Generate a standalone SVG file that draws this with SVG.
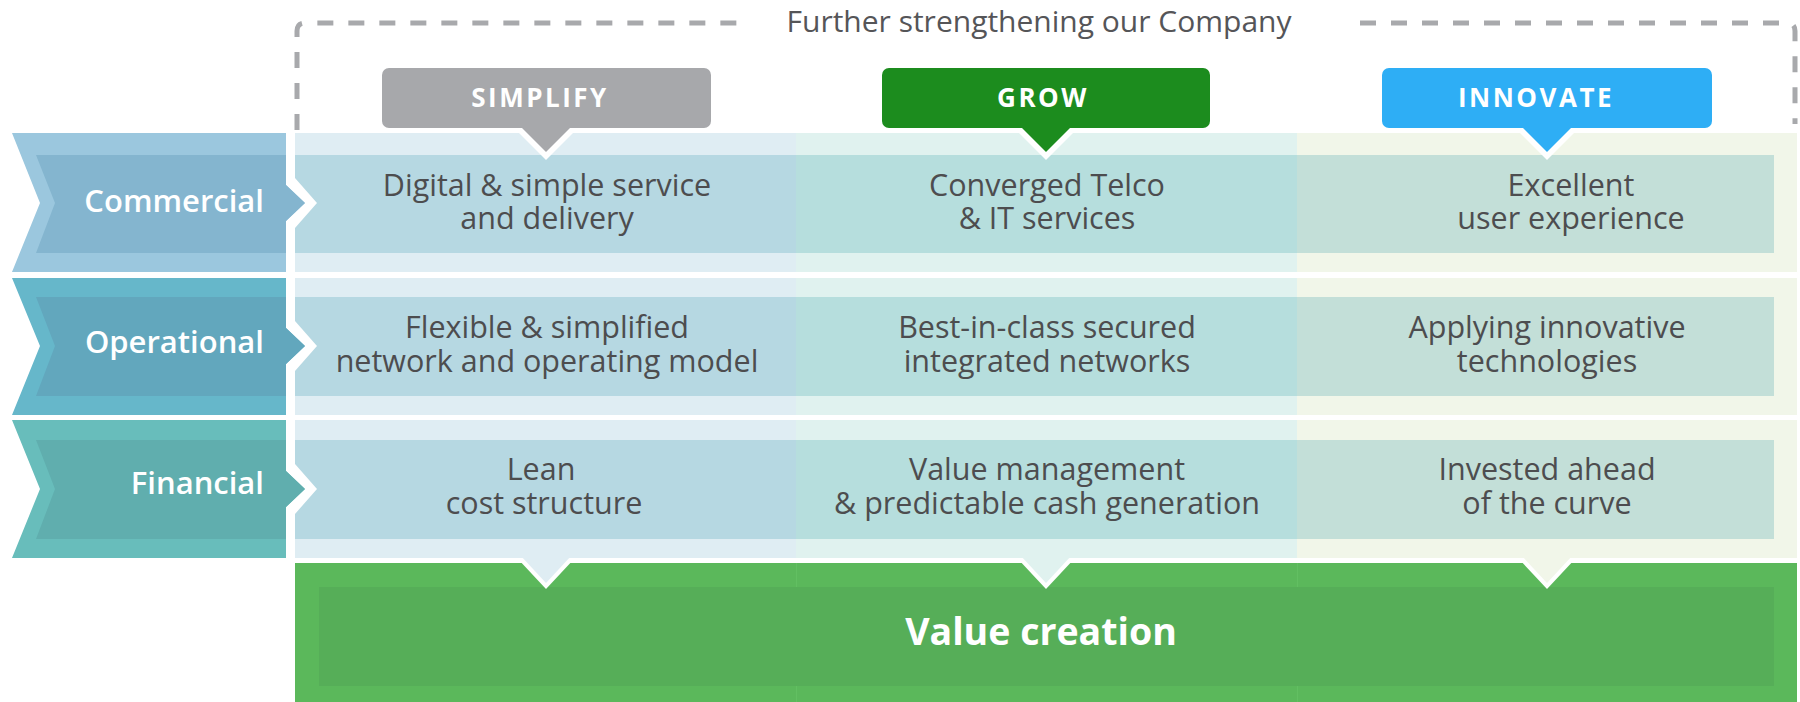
<svg xmlns="http://www.w3.org/2000/svg" width="1800" height="702" viewBox="0 0 1800 702">
  <style>
    .cell { font-family: "Open Sans", "Noto Sans", "Liberation Sans", sans-serif; font-size: 30.5px; fill: #4d4d4f; text-anchor: middle; }
    .lbl { font-family: "Open Sans", "Noto Sans", "Liberation Sans", sans-serif; font-size: 31px; font-weight: 600; fill: #ffffff; text-anchor: end; }
    .hdr { font-family: "Open Sans", "Noto Sans", "Liberation Sans", sans-serif; font-size: 26px; font-weight: 700; fill: #ffffff; text-anchor: middle; letter-spacing: 2.5px; }
    .title { font-family: "Open Sans", "Noto Sans", "Liberation Sans", sans-serif; font-size: 30px; fill: #555558; text-anchor: middle; }
    .value { font-family: "Open Sans", "Noto Sans", "Liberation Sans", sans-serif; font-size: 37.5px; font-weight: 700; fill: #ffffff; text-anchor: middle; }
    .dash { fill: none; stroke: #a8a9ac; stroke-width: 5; stroke-dasharray: 16 15; }
    .c1o { fill: #dfedf3; } .c1i { fill: #b6d8e2; }
    .c2o { fill: #e0f2ef; } .c2i { fill: #b6dedd; }
    .c3o { fill: #f1f6e9; } .c3i { fill: #c3dfd8; }
    .gap { fill: #ffffff; }
  </style>

  <rect width="1800" height="702" fill="#ffffff"/>

  <!-- dashed frame with caption -->
  <g id="frame">
    <path class="dash" d="M297,130 V31 Q297,23 305,23 H746"/>
    <path class="dash" d="M1360,23 H1787 Q1795,23 1795,31 V124"/>
    <text class="title" x="1039" y="32">Further strengthening our Company</text>
  </g>

  <!-- content bands: three rows x three columns -->
  <g id="cells">
    <g id="row1-bands">
      <rect class="c1o" x="295" y="133" width="501" height="139"/>
      <rect class="c2o" x="796" y="133" width="501" height="139"/>
      <rect class="c3o" x="1297" y="133" width="500" height="139"/>
      <rect class="c1i" x="295" y="155" width="501" height="98"/>
      <rect class="c2i" x="796" y="155" width="501" height="98"/>
      <rect class="c3i" x="1297" y="155" width="477" height="98"/>
    </g>
    <g id="row2-bands">
      <rect class="c1o" x="295" y="278" width="501" height="137"/>
      <rect class="c2o" x="796" y="278" width="501" height="137"/>
      <rect class="c3o" x="1297" y="278" width="500" height="137"/>
      <rect class="c1i" x="295" y="297" width="501" height="99"/>
      <rect class="c2i" x="796" y="297" width="501" height="99"/>
      <rect class="c3i" x="1297" y="297" width="477" height="99"/>
    </g>
    <g id="row3-bands">
      <rect class="c1o" x="295" y="420" width="501" height="138"/>
      <rect class="c2o" x="796" y="420" width="501" height="138"/>
      <rect class="c3o" x="1297" y="420" width="500" height="138"/>
      <rect class="c1i" x="295" y="440" width="501" height="99"/>
      <rect class="c2i" x="796" y="440" width="501" height="99"/>
      <rect class="c3i" x="1297" y="440" width="477" height="99"/>
    </g>
  </g>

  <!-- value creation block -->
  <g id="value-creation">
    <rect x="295" y="563" width="1502" height="139" fill="#5bb85b"/>
    <path d="M796.5,563 V702 M1297.5,563 V702" stroke="#62bf62" stroke-width="1"/>
    <rect x="319" y="587" width="1455" height="99" fill="#56ae58"/>
    <text class="value" x="1041" y="645">Value creation</text>
  </g>

  <!-- pointers linking headers to rows and rows to value creation -->
  <g id="connectors">
    <polygon class="gap" points="514,128 578,128 546,160"/>
    <polygon points="520,126 572,126 546,152" fill="#a7a8ab"/>
    <polygon class="gap" points="1014,128 1078,128 1046,160"/>
    <polygon points="1020,126 1072,126 1046,152" fill="#1c8c1e"/>
    <polygon class="gap" points="1515,128 1579,128 1547,160"/>
    <polygon points="1521,126 1573,126 1547,152" fill="#2eaef5"/>

    <polygon class="gap" points="517,558 575,558 546,589"/>
    <polygon class="c1o" points="521,556 571,556 546,583"/>
    <polygon class="gap" points="1017,558 1075,558 1046,589"/>
    <polygon class="c2o" points="1021,556 1071,556 1046,583"/>
    <polygon class="gap" points="1518,558 1576,558 1547,589"/>
    <polygon class="c3o" points="1522,556 1572,556 1547,583"/>
  </g>

  <!-- header tabs -->
  <g id="simplify">
    <rect x="382" y="68" width="329" height="60" rx="7" fill="#a7a8ab"/>
    <text class="hdr" x="540" y="107">SIMPLIFY</text>
  </g>
  <g id="grow">
    <rect x="882" y="68" width="328" height="60" rx="7" fill="#1c8c1e"/>
    <text class="hdr" x="1043" y="107">GROW</text>
  </g>
  <g id="innovate">
    <rect x="1382" y="68" width="330" height="60" rx="7" fill="#2eaef5"/>
    <text class="hdr" x="1536" y="107">INNOVATE</text>
  </g>

  <!-- row labels with chevrons -->
  <g id="commercial">
    <polygon class="gap" points="286,133 295,133 295,178 317,203 295,228 295,272 286,272"/>
    <polygon points="12,133 286,133 286,185 305,203 286,221 286,272 12,272 40,203" fill="#9bc7de"/>
    <polygon points="36,155 286,155 286,185 305,203 286,221 286,253 36,253 55,203" fill="#84b5cf"/>
    <text class="lbl" x="264" y="212">Commercial</text>
  </g>
  <g id="operational">
    <polygon class="gap" points="286,278 295,278 295,321 317,346 295,371 295,415 286,415"/>
    <polygon points="12,278 286,278 286,328 305,346 286,364 286,415 12,415 40,346" fill="#66b7ca"/>
    <polygon points="36,297 286,297 286,328 305,346 286,364 286,396 36,396 55,346" fill="#62a7bd"/>
    <text class="lbl" x="264" y="353">Operational</text>
  </g>
  <g id="financial">
    <polygon class="gap" points="286,420 295,420 295,464 317,489 295,514 295,558 286,558"/>
    <polygon points="12,420 286,420 286,471 305,489 286,507 286,558 12,558 40,489" fill="#68bdbb"/>
    <polygon points="36,440 286,440 286,471 305,489 286,507 286,539 36,539 55,489" fill="#60aeae"/>
    <text class="lbl" x="264" y="494">Financial</text>
  </g>

  <!-- cell texts -->
  <g id="cell-texts">
    <text class="cell" x="547" y="196">Digital &amp; simple service</text>
    <text class="cell" x="547" y="229">and delivery</text>
    <text class="cell" x="1047" y="196">Converged Telco</text>
    <text class="cell" x="1047" y="229">&amp; IT services</text>
    <text class="cell" x="1571" y="196">Excellent</text>
    <text class="cell" x="1571" y="229">user experience</text>

    <text class="cell" x="547" y="338">Flexible &amp; simplified</text>
    <text class="cell" x="547" y="372">network and operating model</text>
    <text class="cell" x="1047" y="338">Best-in-class secured</text>
    <text class="cell" x="1047" y="372">integrated networks</text>
    <text class="cell" x="1547" y="338">Applying innovative</text>
    <text class="cell" x="1547" y="372">technologies</text>

    <text class="cell" x="541" y="480">Lean</text>
    <text class="cell" x="544" y="514">cost structure</text>
    <text class="cell" x="1047" y="480">Value management</text>
    <text class="cell" x="1047" y="514">&amp; predictable cash generation</text>
    <text class="cell" x="1547" y="480">Invested ahead</text>
    <text class="cell" x="1547" y="514">of the curve</text>
  </g>
</svg>
